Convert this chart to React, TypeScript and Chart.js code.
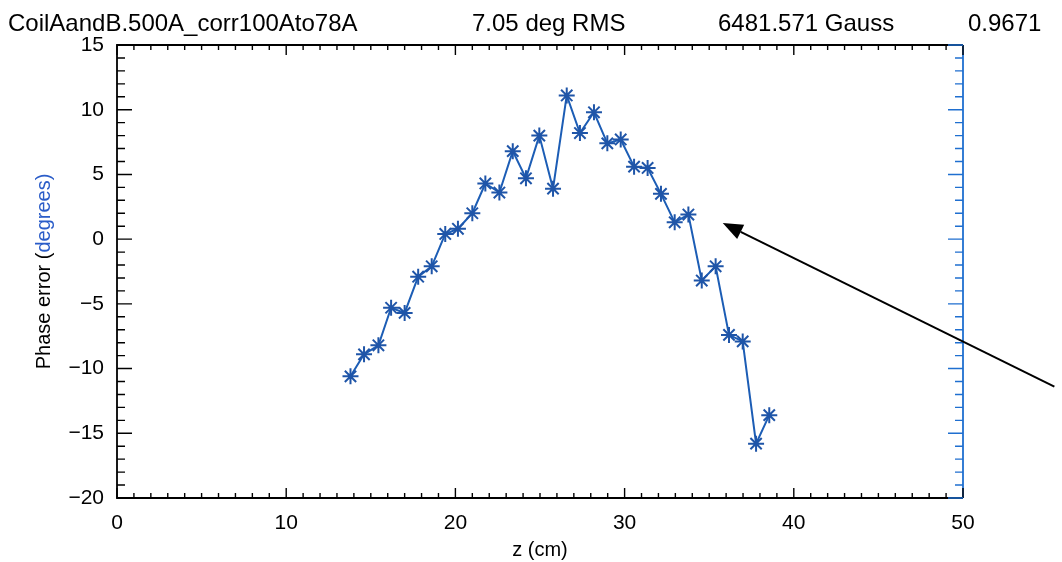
import React, { useEffect, useRef } from "react";
import { Chart, registerables } from "chart.js";

Chart.register(...registerables);

const zPositions = [
  13.8, 14.6, 15.45, 16.2, 17.0, 17.8, 18.6, 19.4, 20.15, 21.0, 21.77, 22.6, 23.39, 24.17, 24.96, 25.77,
  26.58, 27.36, 28.19, 28.98, 29.77, 30.56, 31.36, 32.15, 32.96, 33.77, 34.56, 35.38, 36.17, 36.98, 37.77, 38.55,
];
const phaseErrors = [
  -10.6, -8.9, -8.2, -5.3, -5.7, -2.9, -2.1, 0.4, 0.8, 2.0, 4.3, 3.6, 6.8, 4.7, 8.0, 3.9,
  11.1, 8.2, 9.8, 7.4, 7.7, 5.6, 5.5, 3.5, 1.3, 1.9, -3.2, -2.1, -7.4, -7.9, -15.8, -13.6,
];
const xTicks = [0, 10, 20, 30, 40, 50];
const yTicks = [-20, -15, -10, -5, 0, 5, 10, 15];
const titleParts = [
  "CoilAandB.500A_corr100Ato78A",
  "7.05 deg RMS",
  "6481.571 Gauss",
  "0.9671",
];
const titleX = [8, 472, 718, 968];
const arrowTail = { x: 55.4, y: -11.4 };
const arrowTip = { x: 35.8, y: 1.24 };

const FONT = "'Liberation Sans', Arial, sans-serif";
const BLUE = "#1c5db5";

const framePlugin = {
  id: "frame",
  afterDraw(chart: any) {
    const ctx = chart.ctx;
    const { left, right, top, bottom } = chart.chartArea;
    const xs = chart.scales.x;
    const ys = chart.scales.y;
    ctx.save();
    ctx.lineWidth = 1.8;
    ctx.strokeStyle = "#000";
    ctx.beginPath();
    ctx.moveTo(right, bottom);
    ctx.lineTo(left, bottom);
    ctx.lineTo(left, top);
    ctx.lineTo(right, top);
    ctx.stroke();
    ctx.strokeStyle = "#1f6fd0";
    ctx.beginPath();
    ctx.moveTo(right, top);
    ctx.lineTo(right, bottom);
    ctx.stroke();

    ctx.strokeStyle = "#000";
    ctx.lineWidth = 1.4;
    ctx.beginPath();
    for (let v = 0; v <= 50; v += 1) {
      const px = xs.getPixelForValue(v);
      const len = v % 10 === 0 ? 10 : 5;
      ctx.moveTo(px, bottom);
      ctx.lineTo(px, bottom - len);
      ctx.moveTo(px, top);
      ctx.lineTo(px, top + len);
    }
    for (let v = -20; v <= 15; v += 1) {
      const py = ys.getPixelForValue(v);
      const len = v % 5 === 0 ? 15 : 8;
      ctx.moveTo(left, py);
      ctx.lineTo(left + len, py);
    }
    ctx.stroke();
    ctx.strokeStyle = "#1f6fd0";
    ctx.beginPath();
    for (let v = -20; v <= 15; v += 1) {
      const py = ys.getPixelForValue(v);
      const len = v % 5 === 0 ? 15 : 8;
      ctx.moveTo(right, py);
      ctx.lineTo(right - len, py);
    }
    ctx.stroke();

    ctx.fillStyle = "#000";
    ctx.font = `24px ${FONT}`;
    ctx.textBaseline = "alphabetic";
    ctx.textAlign = "left";
    titleParts.forEach((t, i) => ctx.fillText(t, titleX[i], 31));

    ctx.font = `20px ${FONT}`;
    ctx.textAlign = "center";
    ctx.textBaseline = "middle";
    ctx.fillText("z (cm)", (left + right) / 2, 550);

    ctx.save();
    ctx.translate(44, (top + bottom) / 2);
    ctx.rotate(-Math.PI / 2);
    ctx.font = `20px ${FONT}`;
    const segs = [
      { t: "Phase error (", c: "#000" },
      { t: "degrees", c: "#2a5cc8" },
      { t: ")", c: "#2a5cc8" },
    ];
    const total = segs.reduce((s, g) => s + ctx.measureText(g.t).width, 0);
    let cx = -total / 2;
    ctx.textAlign = "left";
    ctx.textBaseline = "middle";
    segs.forEach((g) => {
      ctx.fillStyle = g.c;
      ctx.fillText(g.t, cx, 0);
      cx += ctx.measureText(g.t).width;
    });
    ctx.restore();

    const x1 = xs.getPixelForValue(arrowTail.x);
    const y1 = ys.getPixelForValue(arrowTail.y);
    const x2 = xs.getPixelForValue(arrowTip.x);
    const y2 = ys.getPixelForValue(arrowTip.y);
    const ang = Math.atan2(y2 - y1, x2 - x1);
    const headLen = 20;
    const headW = 8;
    const bx = x2 - headLen * Math.cos(ang);
    const by = y2 - headLen * Math.sin(ang);
    ctx.strokeStyle = "#000";
    ctx.lineWidth = 2;
    ctx.beginPath();
    ctx.moveTo(x1, y1);
    ctx.lineTo(bx, by);
    ctx.stroke();
    ctx.fillStyle = "#000";
    ctx.beginPath();
    ctx.moveTo(x2, y2);
    ctx.lineTo(bx + headW * Math.sin(ang), by - headW * Math.cos(ang));
    ctx.lineTo(bx - headW * Math.sin(ang), by + headW * Math.cos(ang));
    ctx.closePath();
    ctx.fill();
    ctx.restore();
  },
};

export default function App() {
  const ref = useRef<HTMLCanvasElement>(null);
  useEffect(() => {
    if (!ref.current) return;
    const chart = new Chart(ref.current, {
      type: "scatter",
      data: {
        datasets: [
          {
            data: zPositions.map((z, i) => ({ x: z, y: phaseErrors[i] })),
            showLine: true,
            borderColor: BLUE,
            borderWidth: 2,
            pointStyle: "star",
            pointRadius: 8,
            pointBorderWidth: 2,
            pointBorderColor: "#1f55a8",
            pointBackgroundColor: "#1f55a8",
          },
        ],
      },
      options: {
        animation: false,
        responsive: true,
        maintainAspectRatio: false,
        layout: { padding: { top: 45, right: 99, left: 0, bottom: 0 } },
        plugins: { legend: { display: false }, tooltip: { enabled: false }, title: { display: false } },
        scales: {
          x: {
            type: "linear",
            min: 0,
            max: 50,
            afterBuildTicks: (s: any) => {
              s.ticks = xTicks.map((v) => ({ value: v }));
            },
            afterFit: (s: any) => {
              s.height = 64;
            },
            grid: { display: false, drawTicks: false },
            border: { display: false },
            ticks: {
              color: "#000",
              font: { size: 21, family: FONT },
              padding: 13,
              maxRotation: 0,
              autoSkip: false,
            },
          },
          y: {
            type: "linear",
            min: -20,
            max: 15,
            afterBuildTicks: (s: any) => {
              s.ticks = yTicks.map((v) => ({ value: v }));
            },
            afterFit: (s: any) => {
              s.width = 117;
            },
            grid: { display: false, drawTicks: false },
            border: { display: false },
            ticks: {
              color: "#000",
              font: { size: 21, family: FONT },
              padding: 13,
              autoSkip: false,
              callback: (v: any) => String(v).replace("-", "\u2212"),
            },
          },
        },
      },
      plugins: [framePlugin],
    });
    return () => chart.destroy();
  }, []);
  return (
    <div style={{ position: "absolute", left: 0, top: 0, width: 1062, height: 562, background: "#fff" }}>
      <canvas ref={ref} />
    </div>
  );
}
